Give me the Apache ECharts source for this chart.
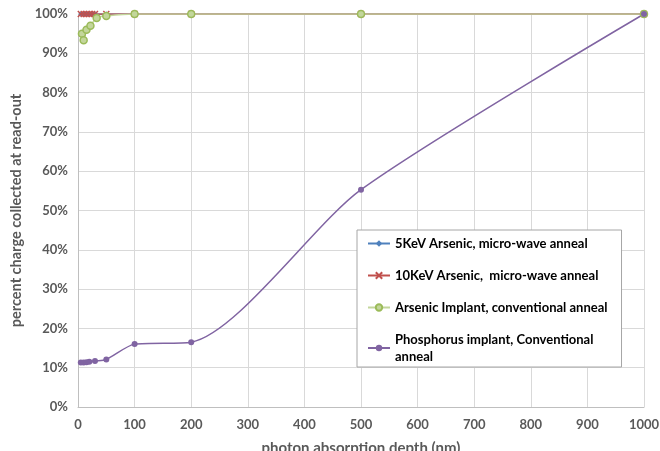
<!DOCTYPE html>
<html><head><meta charset="utf-8">
<script src="https://cdn.jsdelivr.net/npm/echarts@6/dist/echarts.min.js"></script>
<style>html,body{margin:0;padding:0;background:#fff}#c{width:660px;height:451px}</style>
</head><body><div id="c"></div>
<script>
var seriesNames = ["5KeV Arsenic, micro-wave anneal", "10KeV Arsenic,  micro-wave anneal", "Arsenic Implant, conventional anneal", "Phosphorus implant, Conventional anneal"];
var depth5KeV = [5, 10, 15, 20, 25, 30, 50, 100, 200, 500, 1000];
var val5KeV = [100, 100, 100, 100, 100, 100, 100, 100, 100, 100, 100];
var depth10KeV = [5, 10, 15, 20, 25, 30, 50, 100, 200, 500, 1000];
var val10KeV = [100, 100, 100, 100, 100, 100, 100, 100, 100, 100, 100];
var depthArsenic = [7, 10, 15, 22, 33, 50, 100, 200, 500, 1000];
var valArsenic = [95, 93.3, 96, 97, 99, 99.5, 100, 100, 100, 100];
var depthPhos = [5, 10, 15, 20, 30, 50, 100, 200, 500, 1000];
var valPhos = [11.3, 11.3, 11.4, 11.5, 11.7, 12.1, 16, 16.5, 55.3, 100];
var xTicks = [0, 100, 200, 300, 400, 500, 600, 700, 800, 900, 1000];
var yTicks = [0, 10, 20, 30, 40, 50, 60, 70, 80, 90, 100];

function pairs(xs, ys){ return xs.map(function(x,i){ return [x, ys[i]]; }); }
var xPath = 'path://M0,0 L10,10 M10,0 L0,10';
var font = 'Lato, "Open Sans", sans-serif';
var chart = echarts.init(document.getElementById('c'));
chart.setOption({
  animation: false,
  grid: {left: 78, right: 16, top: 14, bottom: 44, outerBoundsMode: 'none', containLabel: false},
  xAxis: {
    type: 'value', min: xTicks[0], max: xTicks[xTicks.length-1], interval: 100,
    axisLine: {show: true, lineStyle: {color: '#bfbfbf'}},
    axisTick: {show: false},
    splitLine: {show: true, lineStyle: {color: '#d9d9d9'}},
    axisLabel: {color: '#595959', fontFamily: font, fontWeight: 'bold', fontSize: 13, margin: 11,
      formatter: function(v){ return String(v); }},
    name: 'photon absorption depth (nm)', nameLocation: 'middle', nameGap: 34,
    nameTextStyle: {color: '#595959', fontFamily: font, fontWeight: 'bold', fontSize: 15}
  },
  yAxis: {
    type: 'value', min: yTicks[0], max: yTicks[yTicks.length-1], interval: 10,
    axisLine: {show: true, lineStyle: {color: '#bfbfbf'}},
    axisTick: {show: false},
    splitLine: {show: true, lineStyle: {color: '#d9d9d9'}},
    axisLabel: {color: '#595959', fontFamily: font, fontWeight: 'bold', fontSize: 13, margin: 10, formatter: '{value}%'},
    name: 'percent charge collected at read-out', nameLocation: 'middle', nameGap: 54, nameRotate: 90,
    nameTextStyle: {color: '#595959', fontFamily: font, fontWeight: 'bold', fontSize: 14.5}
  },
  legend: {
    orient: 'vertical', left: 357, top: 230, width: 265,
    backgroundColor: '#fff', borderColor: '#a6a6a6', borderWidth: 1,
    padding: [5, 14, 2, 10], itemGap: 15, itemWidth: 22, itemHeight: 8,
    textStyle: {color: '#000', fontFamily: font, fontWeight: 'bold', fontSize: 13, lineHeight: 17},
    formatter: function(n){ return n === seriesNames[3] ? 'Phosphorus implant, Conventional\nanneal' : n; },
    data: seriesNames
  },
  series: [
    {name: seriesNames[0], type: 'line', smooth: 0.3, data: pairs(depth5KeV, val5KeV),
     symbol: 'diamond', symbolSize: 5, color: '#4F81BD', lineStyle: {width: 1.5}},
    {name: seriesNames[1], type: 'line', smooth: 0.3, data: pairs(depth10KeV, val10KeV),
     symbol: xPath, symbolSize: 6, color: '#C0504D', lineStyle: {width: 1.5},
     itemStyle: {color: '#C0504D', borderColor: '#C0504D', borderWidth: 1.5}},
    {name: seriesNames[2], type: 'line', smooth: 0.3, data: pairs(depthArsenic, valArsenic),
     symbol: 'circle', symbolSize: 7, color: '#9BBB59', lineStyle: {width: 1.5},
     itemStyle: {color: '#c3d69b', borderColor: '#9BBB59', borderWidth: 1.5}},
    {name: seriesNames[3], type: 'line', smooth: 0.25, data: pairs(depthPhos, valPhos),
     symbol: 'circle', symbolSize: 6, color: '#8064A2', lineStyle: {width: 1.5}}
  ]
});
</script></body></html>
